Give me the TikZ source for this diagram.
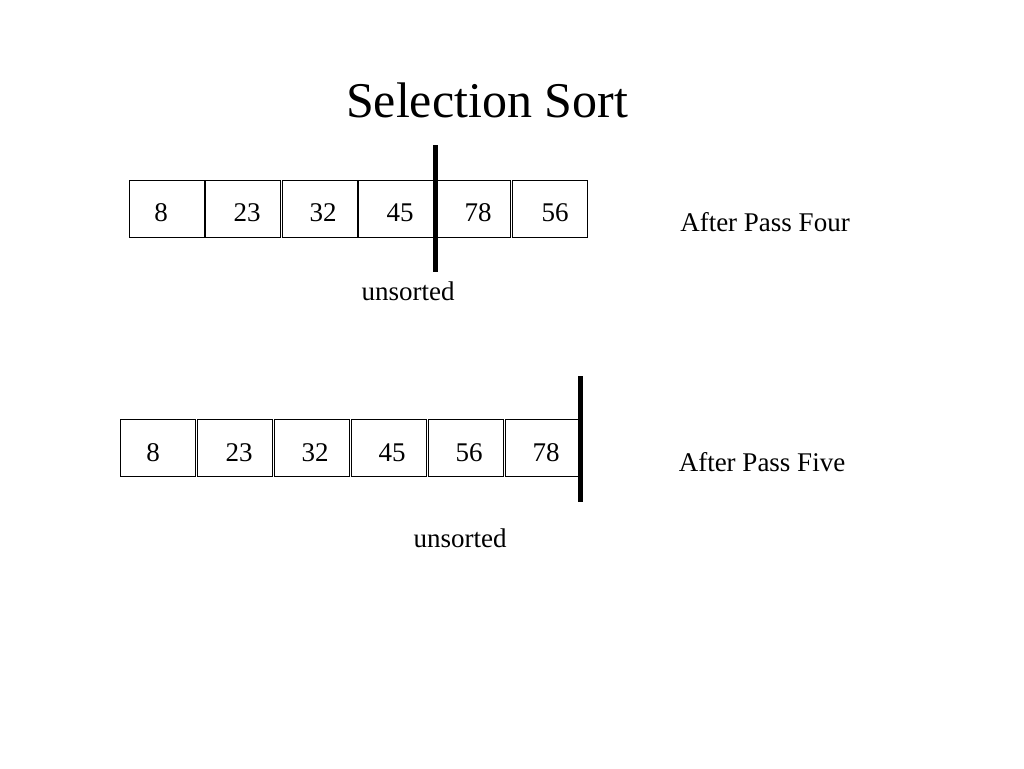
\documentclass[tikz,border=0pt]{standalone}
\usepackage{fontspec}
\setmainfont{Liberation Serif}
\begin{document}
\begin{tikzpicture}[x=1pt,y=-1pt,
  cell/.style={draw,line width=1pt,minimum width=75pt,minimum height=57pt,anchor=north west,inner sep=0pt},
  num/.style={font=\fontsize{27}{27}\selectfont},
  lbl/.style={font=\fontsize{27}{27}\selectfont},
  bar/.style={line width=5pt}]
\useasboundingbox (0,0) rectangle (1024,768);
\node[font=\fontsize{50}{50}\selectfont] (title) at (487,100) {Selection Sort};
% top row
\foreach \x/\v/\nx [count=\i] in {129/8/161,205/23/247,282/32/323,358/45/400,435/78/478,512/56/555}{
  \node[cell] (a\i) at (\x,180) {};
  \node[num] (an\i) at (\nx,213) {\v};
}
\draw[bar] (435,145) -- (435,272);
\node[lbl] (u1) at (408,291) {unsorted};
\node[lbl] (p4) at (765,222) {After Pass Four};
% bottom row
\foreach \x/\v/\nx [count=\i] in {120/8/153,197/23/239,274/32/315,351/45/392,428/56/469,505/78/546}{
  \node[cell] (b\i) at (\x,419) {};
  \node[num] (bn\i) at (\nx,453) {\v};
}
\draw[bar] (580,376) -- (580,502);
\node[lbl] (u2) at (460,538) {unsorted};
\node[lbl] (p5) at (762,462) {After Pass Five};
\end{tikzpicture}
\end{document}
